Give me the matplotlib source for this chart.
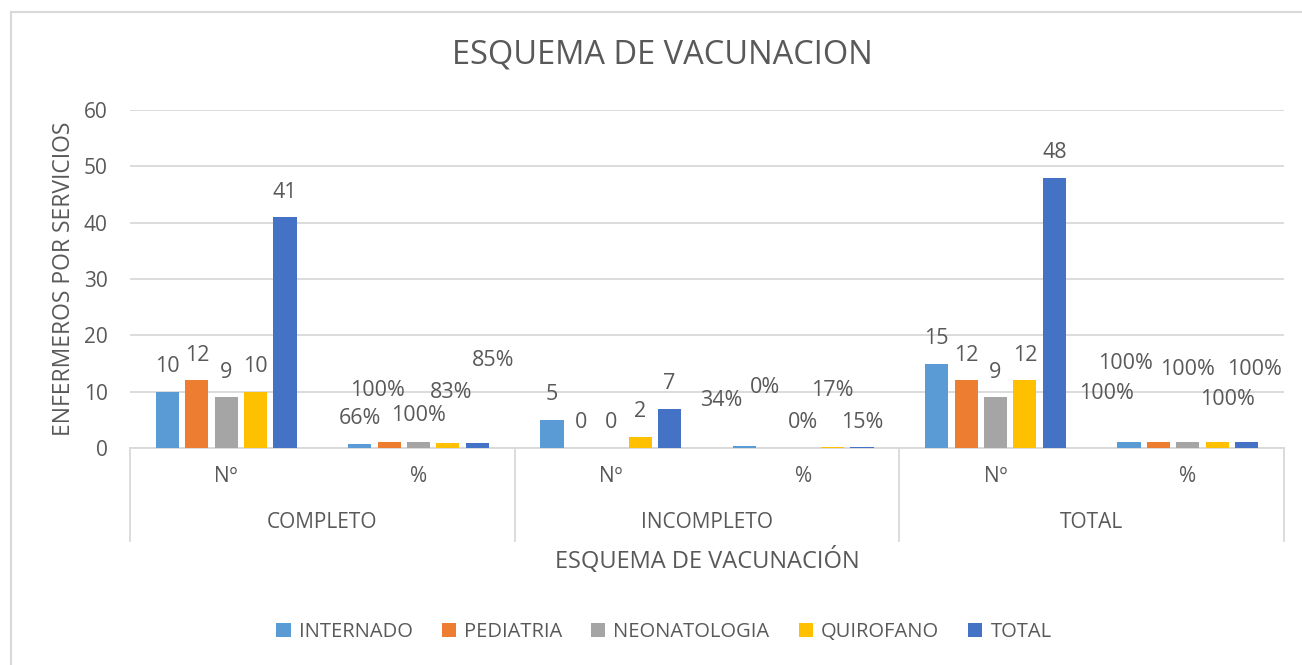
import matplotlib.pyplot as plt
from matplotlib.patches import Rectangle, Patch
import numpy as np

plt.rcParams['font.family'] = ['Open Sans', 'DejaVu Sans']

# data
groups = ['COMPLETO', 'INCOMPLETO', 'TOTAL']
subgroups = ['Nº', '%']
series = ['INTERNADO', 'PEDIATRIA', 'NEONATOLOGIA', 'QUIROFANO', 'TOTAL']
completo_n = [10, 12, 9, 10, 41]
completo_pct = [0.66, 1.00, 1.00, 0.83, 0.85]
incompleto_n = [5, 0, 0, 2, 7]
incompleto_pct = [0.34, 0.0, 0.0, 0.17, 0.15]
total_n = [15, 12, 9, 12, 48]
total_pct = [1.0, 1.0, 1.0, 1.0, 1.0]

colors = ['#5B9BD5', '#ED7D31', '#A5A5A5', '#FFC000', '#4472C4']
txt = '#595959'
grid = '#D9D9D9'

# label placement for the % columns (Excel moved them around)
# (dx in slot units, y in data units) per series
pct_label_pos = [
    [(0.0, 5.2), (-0.06, 10.2), (0.0, 5.8), (0.015, 9.9), (0.08, 15.5)],
    [(-0.12, 8.4), (-0.045, 10.7), (0.0, 4.5), (0.0, 10.2), (0.0, 4.5)],
    [(-0.115, 9.7), (-0.17, 15.0), (0.0, 13.9), (0.055, 8.6), (0.04, 13.9)],
]

W, H = 1302, 665
fig = plt.figure(figsize=(W / 100, H / 100), dpi=100)
ax = fig.add_axes([130 / W, 1 - 448 / H, (1284 - 130) / W, (448 - 110) / H])

# outer chart border (right and bottom edges fall outside the image)
fig.patches.append(Rectangle((11 / W, -0.1), 1.2, 1.1 - 12 / H, transform=fig.transFigure,
                             fill=False, edgecolor=grid, lw=1.5))

n_rows = [completo_n, incompleto_n, total_n]
pct_rows = [completo_pct, incompleto_pct, total_pct]

step = 0.153
bw = 0.12
offsets = (np.arange(len(series)) - 2) * step
fs = 15

for gi in range(len(groups)):
    xn = gi * 2 + 0.5
    xp = gi * 2 + 1.5
    for si in range(len(series)):
        v = n_rows[gi][si]
        ax.bar(xn + offsets[si], v, width=bw, color=colors[si], zorder=3)
        ax.annotate(str(v), (xn + offsets[si], v), xytext=(0, 18), textcoords='offset points',
                    ha='center', va='center', fontsize=15.5, color=txt)
        p = pct_rows[gi][si]
        ax.bar(xp + offsets[si], p, width=bw, color=colors[si], zorder=3)
        dx, ly = pct_label_pos[gi][si]
        ax.text(xp + offsets[si] + dx, ly, f'{p:.0%}', ha='center', va='center',
                fontsize=15.5, color=txt)

ax.set_xlim(0, 6)
ax.set_ylim(0, 60)
ax.set_yticks(range(0, 61, 10))
ax.yaxis.grid(True, color=grid, lw=1.3)
ax.set_axisbelow(True)
for s in ['top', 'right', 'left']:
    ax.spines[s].set_visible(False)
ax.spines['bottom'].set_color(grid)
ax.spines['bottom'].set_linewidth(1.3)
ax.tick_params(axis='y', length=0, pad=16, labelsize=fs, labelcolor=txt)
ax.set_xticks([])
ax.set_ylabel('ENFERMEROS POR SERVICIOS', fontsize=16.5, color=txt, labelpad=6)

# multi-level category axis
trans = ax.get_xaxis_transform()
for xv in [0, 2, 4, 6]:
    ax.plot([xv, xv], [0, -(541 - 448) / 338], transform=trans, color=grid,
            lw=1.3, clip_on=False)
for gi, g in enumerate(groups):
    for k, sg in enumerate(subgroups):
        ax.text(gi * 2 + 0.5 + k, -(477 - 448) / 338, sg, transform=trans,
                ha='center', va='center', fontsize=fs, color=txt)
    ax.text(gi * 2 + 1, -(523 - 448) / 338, g, transform=trans,
            ha='center', va='center', fontsize=fs, color=txt)

fig.text(707 / W, 1 - 561 / H, 'ESQUEMA DE VACUNACIÓN', ha='center', va='center',
         fontsize=17, color=txt)
fig.text(662 / W, 1 - 55 / H, 'ESQUEMA DE VACUNACION', ha='center', va='center',
         fontsize=23.5, color=txt)

handles = [Patch(facecolor=c, label=s) for c, s in zip(colors, series)]
fig.legend(handles=handles, loc='center', bbox_to_anchor=(664 / W, 1 - 632 / H),
           ncol=5, frameon=False, fontsize=14.5, labelcolor=txt,
           handlelength=0.7, handleheight=0.7, handletextpad=0.4, columnspacing=1.45)

fig.savefig('out.png', dpi=100)
